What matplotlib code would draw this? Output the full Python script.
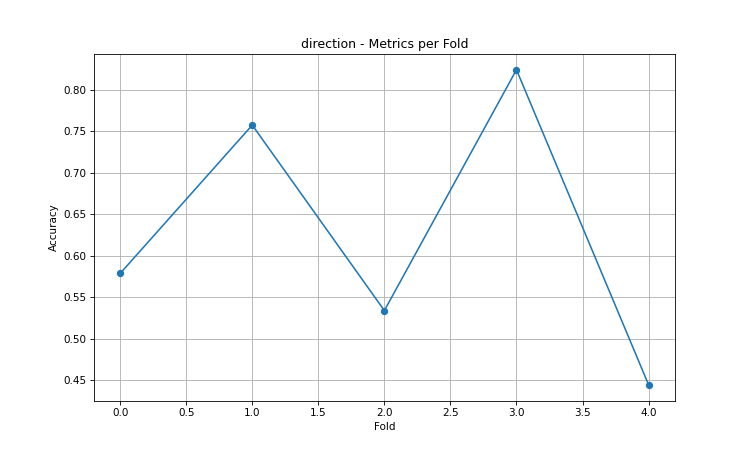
import matplotlib
matplotlib.use("Agg")
import matplotlib.pyplot as plt

# per-fold accuracy
folds = [0, 1, 2, 3, 4]
accuracy = [0.5786, 0.7576, 0.5338, 0.8244, 0.4443]

# 10x6 at 75 dpi -> 750x450, with smaller text like the reference
fig = plt.figure(figsize=(10, 6), dpi=75)
plt.plot(folds, accuracy, marker="o")
plt.title("direction - Metrics per Fold")
plt.xlabel("Fold")
plt.ylabel("Accuracy")
plt.grid(True)
plt.savefig("out.png", dpi=75)
